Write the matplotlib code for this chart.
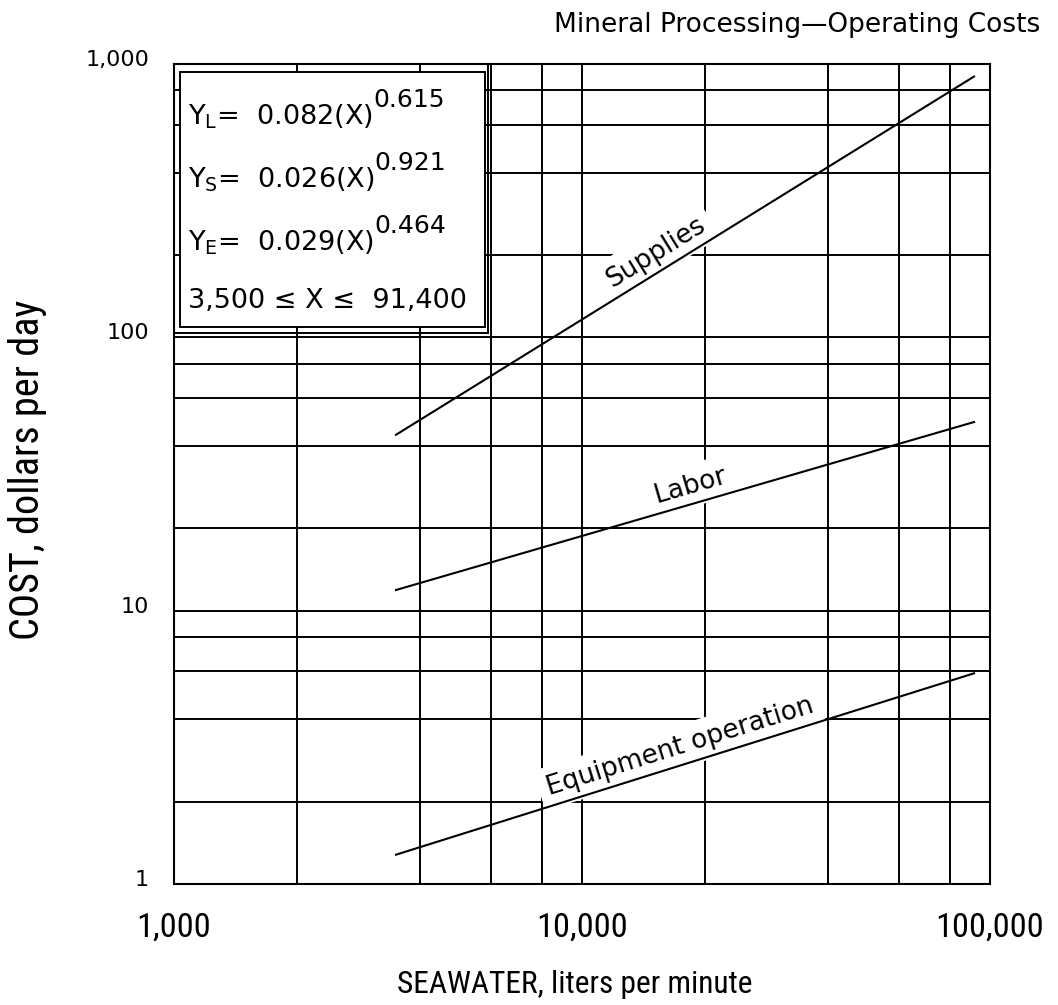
import matplotlib
matplotlib.use("Agg")
import matplotlib.pyplot as plt
import numpy as np
from matplotlib import font_manager
from matplotlib.patches import Rectangle
from matplotlib.ticker import NullFormatter
from matplotlib.transforms import ScaledTranslation

# line end points (3,500 <= X <= 91,400)
x_range = [3500, 91400]
supplies = [44, 900]
labor = [11.9, 49]
equipment = [1.28, 5.9]
series_names = ["Supplies", "Labor", "Equipment operation"]
label_at = [16000, 19000, 17900]

x_ticks = [1000, 10000, 100000]
x_tick_labels = ["1,000", "10,000", "100,000"]
y_ticks = [1, 10, 100, 1000]
y_tick_labels = ["1", "10", "100", "1,000"]
x_grid = [2000, 4000, 6000, 8000, 20000, 40000, 60000, 80000]
y_grid = [2, 4, 6, 8, 20, 40, 60, 80, 200, 400, 600, 800]

eq_subs = ["L", "S", "E"]
eq_coefs = ["0.082", "0.026", "0.029"]
eq_exps = ["0.615", "0.921", "0.464"]
x_limits_text = "3,500 \u2264 X \u2264  91,400"

plt.rcParams["mathtext.fontset"] = "dejavusans"
plt.rcParams["mathtext.default"] = "regular"


def find_narrow():
    # the axis labels are set in a narrow face; use one if the system has it
    prefs = ["Liberation Sans Narrow", "DejaVu Sans Condensed", "Roboto Condensed",
             "Open Sans Condensed", "Noto Sans Condensed"]
    fonts = font_manager.fontManager.ttflist
    for name in prefs:
        for f in fonts:
            if f.name == name and f.style == "normal" and f.weight in (400, "normal", "regular"):
                return f.fname
    for f in fonts:
        if f.stretch in ("condensed", "semi-condensed") and f.style == "normal" \
                and f.weight in (400, "normal", "regular"):
            return f.fname
    return None


narrow_file = find_narrow()


def narrow_props(size):
    if narrow_file:
        return font_manager.FontProperties(fname=narrow_file, size=size)
    return font_manager.FontProperties(family="DejaVu Sans", size=size)


fig = plt.figure(figsize=(10.58, 10.05), dpi=100)
ax = fig.add_axes([0.16446, 0.12040, 0.77127, 0.81592])

ax.set_xscale("log")
ax.set_yscale("log")
ax.set_xlim(1000, 100000)
ax.set_ylim(1, 1000)
ax.set_xticks(x_ticks, x_tick_labels)
ax.set_xticks(x_grid, minor=True)
ax.set_yticks(y_ticks, y_tick_labels)
ax.set_yticks(y_grid, minor=True)
ax.xaxis.set_minor_formatter(NullFormatter())
ax.yaxis.set_minor_formatter(NullFormatter())
ax.tick_params(which="both", length=0)
ax.tick_params(axis="x", pad=20)
for lab in ax.get_xticklabels():
    lab.set_fontproperties(narrow_props(22))
ax.tick_params(axis="y", pad=18, labelsize=16)
for lab in ax.get_yticklabels():
    lab.set_transform(lab.get_transform() + ScaledTranslation(0, 6 / 100, fig.dpi_scale_trans))
ax.grid(which="both", color="black", lw=1.4)
ax.set_axisbelow(True)
for sp in ax.spines.values():
    sp.set_linewidth(1.5)

for name, vals, lx in zip(series_names, [supplies, labor, equipment], label_at):
    ax.plot(x_range, vals, color="black", lw=1.5, zorder=4)
    ly = 10 ** np.interp(np.log10(lx), np.log10(x_range), np.log10(vals))
    p0 = ax.transData.transform((x_range[0], vals[0]))
    p1 = ax.transData.transform((x_range[1], vals[1]))
    rad = np.arctan2(p1[1] - p0[1], p1[0] - p0[0])
    off = ScaledTranslation(-np.sin(rad) * 0.05, np.cos(rad) * 0.05, fig.dpi_scale_trans)
    ax.text(lx, ly, name, rotation=np.degrees(rad), rotation_mode="anchor",
            ha="center", va="bottom", fontsize=19, transform=ax.transData + off,
            bbox=dict(boxstyle="square,pad=0.3", fc="white", ec="none"), zorder=3)

# equation box (double frame)
ax.add_patch(Rectangle((0, 0.672), 0.385, 0.328, transform=ax.transAxes, fill=False,
                       ec="black", lw=1.4, zorder=5, clip_on=False))
ax.add_patch(Rectangle((0.0074, 0.679), 0.3736, 0.311, transform=ax.transAxes,
                       fc="white", ec="black", lw=1.4, zorder=5))
rows_y = [0.926, 0.849, 0.772]
for sub, coef, ex, y in zip(eq_subs, eq_coefs, eq_exps, rows_y):
    t = ax.text(0.017, y, "Y$_{\\mathrm{%s}}$=  %s(X)" % (sub, coef), transform=ax.transAxes,
                ha="left", va="baseline", fontsize=19.5, zorder=6)
    ax.annotate(ex, xy=(1, 1), xycoords=t, xytext=(0, 2), textcoords="offset points",
                ha="left", va="center", fontsize=18, zorder=6)
ax.text(0.017, 0.702, x_limits_text, transform=ax.transAxes, ha="left", va="baseline",
        fontsize=19.5, zorder=6)

ax.set_xlabel("SEAWATER, liters per minute", fontproperties=narrow_props(24))
ax.xaxis.set_label_coords(0.491, -0.123)
ax.xaxis.label.set_va("center")
ax.set_ylabel("COST, dollars per day", fontproperties=narrow_props(24))
ax.yaxis.set_label_coords(-0.179, 0.505)
ax.yaxis.label.set_va("center")

fig.text(0.983, 0.975, "Mineral Processing\u2014Operating Costs", ha="right", va="center",
         fontsize=19)

# size the narrow-face texts to the widths they take on the chart
renderer = fig.canvas.get_renderer()
xl = ax.xaxis.label
xl.set_fontsize(xl.get_fontsize() * 355 / xl.get_window_extent(renderer).width)
yl = ax.yaxis.label
yl.set_fontsize(yl.get_fontsize() * 340 / yl.get_window_extent(renderer).height)
tick_w = ax.get_xticklabels()[1].get_window_extent(renderer).width
for lab in ax.get_xticklabels():
    lab.set_fontsize(22 * 92 / tick_w)

fig.savefig("out.png", dpi=100)
